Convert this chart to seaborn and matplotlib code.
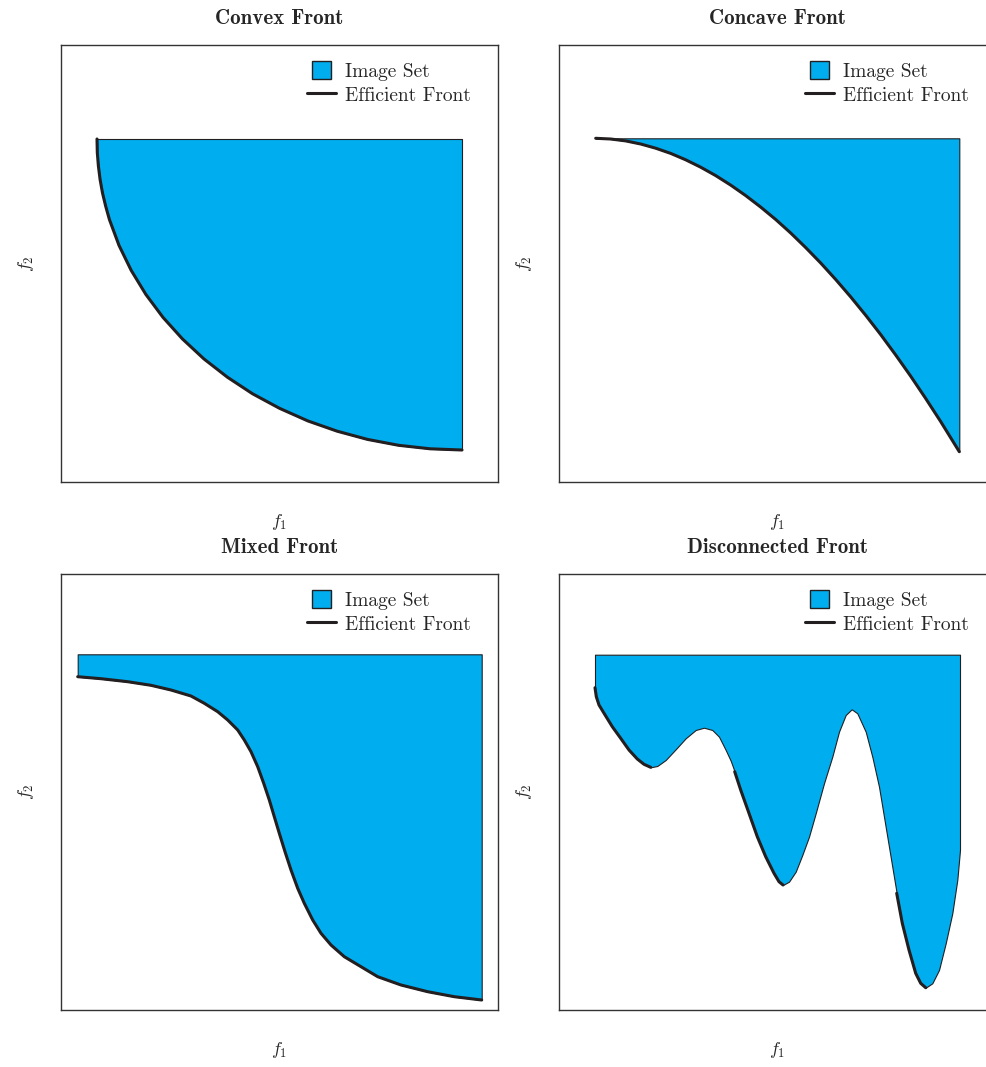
import numpy as np
import pandas as pd
import matplotlib
matplotlib.use("Agg")
import matplotlib.pyplot as plt
import seaborn as sns
from matplotlib.patches import Patch, Rectangle
from matplotlib.lines import Line2D
from matplotlib.legend_handler import HandlerPatch

# ---------------- data (objective values, arbitrary units) ----------------
titles = ["Convex Front", "Concave Front", "Mixed Front", "Disconnected Front"]

# Convex front (image set lies above it, up to convex_top)
convex_f1 = [36.0, 36.3, 37.4, 39.1, 41.5, 44.7, 48.4, 58.0, 70.2, 84.9, 102.0, 121.4,
             142.9, 166.4, 191.6, 218.5, 246.8, 276.2, 306.5, 337.6, 369.2, 401.0]
convex_f2 = [343.0, 329.4, 315.9, 302.4, 289.0, 275.7, 262.5, 236.6, 211.6, 187.5, 164.6,
             143.1, 123.1, 104.8, 88.2, 73.7, 61.1, 50.8, 42.6, 36.7, 33.2, 32.0]
convex_top = 343.0

# Concave front
concave_f1 = [36.7, 51.7, 66.7, 81.7, 96.7, 111.7, 126.7, 141.7, 156.7, 171.7, 186.7,
              201.7, 216.7, 231.7, 246.7, 261.7, 276.7, 291.7, 306.7, 321.7, 336.7,
              351.7, 366.7, 381.7, 400.3]
concave_f2 = [343.7, 343.0, 341.1, 338.0, 333.8, 328.6, 322.2, 314.8, 306.4, 296.9, 286.4,
              274.9, 262.5, 249.0, 234.4, 219.0, 202.5, 185.1, 166.7, 147.4, 127.0,
              105.8, 83.5, 60.4, 30.3]
concave_top = 343.7

# Mixed front
mixed_f1 = [16.7, 40.0, 66.7, 90.0, 110.0, 130.0, 143.3, 156.7, 166.7, 176.7, 183.3, 190.0,
            196.7, 202.7, 208.3, 213.3, 218.3, 224.0, 230.0, 236.7, 243.3, 251.7, 260.0,
            270.0, 283.3, 300.0, 316.7, 340.0, 366.7, 393.3, 420.7]
mixed_f2 = [333.3, 331.3, 328.3, 324.7, 320.0, 314.0, 306.7, 298.3, 290.0, 280.0, 270.0, 258.3,
            243.3, 226.7, 210.0, 193.3, 176.7, 158.3, 140.0, 121.7, 106.7, 90.0, 76.7,
            65.0, 53.3, 43.3, 33.3, 25.0, 18.3, 13.3, 10.0]
mixed_top = 355.7

# Disconnected: whole lower boundary of the image set; segment id > 0 marks efficient parts
disc_f1 = [36.0, 37.3, 40.0, 46.7, 53.3, 61.7, 70.0, 78.3, 85.0, 91.7,
           98.3, 106.7, 116.7, 126.7, 136.7, 145.0, 153.3, 160.0, 166.7, 171.7,
           175.7, 181.7, 190.0, 198.3, 206.7, 215.0, 220.0, 224.0,
           230.0, 236.7, 243.3, 250.0, 256.7, 265.0, 273.3, 280.0, 286.7, 292.7, 298.3,
           306.7, 313.3, 320.0, 328.3,
           337.7, 343.3, 350.0, 356.7, 361.7, 366.7,
           373.3, 380.0, 386.7, 393.3, 398.3, 401.0]
disc_f2 = [322.3, 313.3, 305.0, 294.0, 283.3, 271.7, 260.0, 251.0, 245.7, 242.7,
           244.0, 250.0, 260.7, 271.7, 280.0, 282.3, 280.0, 273.3, 260.0, 249.3,
           238.3, 220.0, 196.7, 173.3, 153.3, 136.7, 128.3, 125.0,
           128.3, 138.3, 155.0, 173.3, 196.7, 226.7, 253.3, 278.3, 295.0, 300.7, 296.7,
           278.3, 253.3, 223.3, 173.3,
           116.7, 86.7, 60.0, 36.7, 26.7, 22.3,
           26.7, 40.0, 66.7, 96.7, 130.0, 160.0]
disc_segment = [1] * 10 + [0] * 10 + [2] * 8 + [0] * 15 + [3] * 6 + [0] * 6
disc_top = 355.3

# ---------------- style ----------------
sns.set_theme(style="white")
plt.rcParams["font.family"] = ["cmr10", "DejaVu Sans"]
plt.rcParams["mathtext.fontset"] = "cm"
plt.rcParams["axes.unicode_minus"] = False

FILL = "#00aeef"
LINE = "#231f20"
EDGE = "#231f20"

fig = plt.figure(figsize=(9.87, 10.67), dpi=100)
W, H = 987.0, 1067.0
positions = [
    (61 / W, (H - 482) / H, 437 / W, 437 / H),
    (559 / W, (H - 482) / H, 437 / W, 437 / H),
    (61 / W, (H - 1010) / H, 437 / W, 436 / H),
    (559 / W, (H - 1010) / H, 437 / W, 436 / H),
]


class SquareHandler(HandlerPatch):
    def create_artists(self, legend, orig_handle, xdescent, ydescent, width, height,
                       fontsize, trans):
        side = height
        x0 = -xdescent + (width - side) / 2
        y0 = -ydescent + (height - side) / 2
        p = Rectangle((x0, y0), side, side, facecolor=orig_handle.get_facecolor(),
                      edgecolor=orig_handle.get_edgecolor(), linewidth=1.0,
                      transform=trans)
        return [p]


def style_axes(ax, title, ylim_top):
    ax.set_xlim(0, 437)
    ax.set_ylim(0, ylim_top)
    ax.set_xticks([])
    ax.set_yticks([])
    for s in ax.spines.values():
        s.set_color("#333333")
        s.set_linewidth(1.0)
    ax.set_title(title, fontfamily="cmb10", fontsize=15, pad=15)
    ax.set_xlabel("$f_1$", fontsize=13)
    ax.set_ylabel("$f_2$", fontsize=13)
    ax.xaxis.label.set_va("center")
    ax.yaxis.label.set_va("center")
    ax.xaxis.set_label_coords(0.5, -0.092)
    ax.yaxis.set_label_coords(-0.08, 0.5)
    handles = [Patch(facecolor=FILL, edgecolor=EDGE), Line2D([], [], color=LINE, lw=2.2)]
    ax.legend(handles, ["Image Set", "Efficient Front"], loc="upper right",
              bbox_to_anchor=(0.955, 0.982), borderaxespad=0.0,
              frameon=False, fontsize=14, handlelength=1.5, handleheight=1.1,
              handletextpad=0.45, labelspacing=0.25,
              handler_map={Patch: SquareHandler()})


simple = [(convex_f1, convex_f2, convex_top), (concave_f1, concave_f2, concave_top),
          (mixed_f1, mixed_f2, mixed_top)]
ylims = [437, 437, 436, 436]

for i in range(4):
    ax = fig.add_axes(positions[i])
    if i < 3:
        f1, f2, top = simple[i]
        ax.fill_between(f1, f2, top, facecolor=FILL, edgecolor=EDGE, linewidth=0.8, zorder=1)
        df = pd.DataFrame({"f1": f1, "f2": f2})
        sns.lineplot(data=df, x="f1", y="f2", ax=ax, color=LINE, linewidth=2.2,
                     estimator=None, sort=False, zorder=3)
    else:
        ax.fill_between(disc_f1, disc_f2, disc_top, facecolor=FILL, edgecolor=EDGE,
                        linewidth=0.8, zorder=1)
        df = pd.DataFrame({"f1": disc_f1, "f2": disc_f2, "seg": disc_segment})
        df = df[df["seg"] > 0]
        sns.lineplot(data=df, x="f1", y="f2", units="seg", ax=ax, color=LINE,
                     linewidth=2.2, estimator=None, sort=False, zorder=3)
    style_axes(ax, titles[i], ylims[i])

fig.savefig("out.png", dpi=100)
